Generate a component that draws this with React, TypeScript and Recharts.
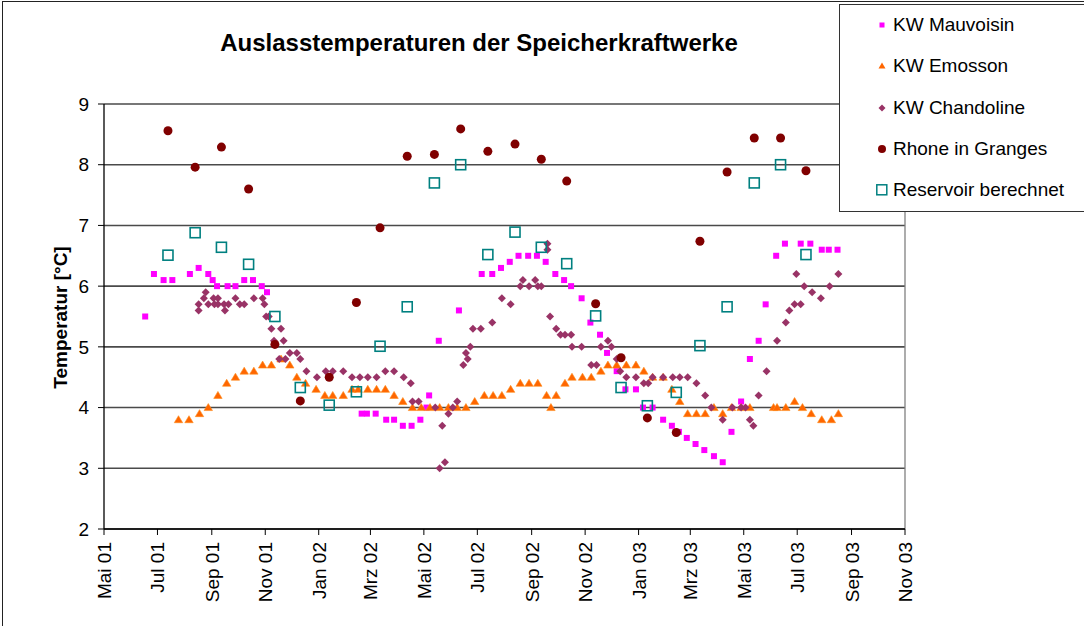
import { ScatterChart, Scatter, XAxis, YAxis, CartesianGrid, ReferenceLine } from "recharts";

// x values are days after 1 May 2001
const tickDates = [
  "2001-05-01", "2001-07-01", "2001-09-01", "2001-11-01", "2002-01-01", "2002-03-01", "2002-05-01", "2002-07-01",
  "2002-09-01", "2002-11-01", "2003-01-01", "2003-03-01", "2003-05-01", "2003-07-01", "2003-09-01", "2003-11-01",
];
const tickLabels = [
  "Mai 01", "Jul 01", "Sep 01", "Nov 01", "Jan 02", "Mrz 02", "Mai 02", "Jul 02",
  "Sep 02", "Nov 02", "Jan 03", "Mrz 03", "Mai 03", "Jul 03", "Sep 03", "Nov 03",
];
const yTicks = [2, 3, 4, 5, 6, 7, 8, 9];

const mauvoisin: [number, number][] = [
  [47, 5.5], [57, 6.2], [68, 6.1], [78, 6.1], [98, 6.2], [108, 6.3], [119, 6.2], [124, 6.1], [129, 6.0], [141, 6.0],
  [150, 6.0], [160, 6.1], [170, 6.1], [180, 6.0], [186, 5.9], [294, 3.9], [300, 3.9], [310, 3.9], [322, 3.8], [331, 3.8],
  [341, 3.7], [351, 3.7], [361, 3.8], [368, 4.0], [371, 4.2], [382, 5.1], [405, 5.6], [431, 6.2], [443, 6.2], [453, 6.3],
  [463, 6.4], [473, 6.5], [484, 6.5], [494, 6.5], [504, 6.4], [515, 6.2], [525, 6.1], [533, 6.0], [545, 5.8], [555, 5.4],
  [566, 5.2], [574, 4.9], [585, 4.6], [595, 4.3], [607, 4.3], [615, 4.0], [626, 4.0], [638, 3.8], [648, 3.7], [656, 3.6],
  [665, 3.5], [675, 3.4], [685, 3.3], [696, 3.2], [706, 3.1], [716, 3.6], [727, 4.1], [737, 4.8], [747, 5.1], [755, 5.7],
  [767, 6.5], [777, 6.7], [795, 6.7], [806, 6.7], [819, 6.6], [827, 6.6], [837, 6.6],
];

const emosson: [number, number][] = [
  [85, 3.8], [97, 3.8], [109, 3.9], [119, 4.0], [130, 4.2], [140, 4.4], [150, 4.5], [160, 4.6], [171, 4.6], [181, 4.7],
  [191, 4.7], [202, 4.8], [212, 4.7], [220, 4.5], [230, 4.4], [242, 4.3], [252, 4.2], [261, 4.2], [273, 4.2], [283, 4.3],
  [290, 4.3], [301, 4.3], [311, 4.3], [321, 4.3], [331, 4.2], [341, 4.1], [352, 4.0], [362, 4.0], [372, 4.0], [383, 4.0],
  [393, 4.0], [403, 4.0], [413, 4.0], [423, 4.1], [434, 4.2], [444, 4.2], [454, 4.2], [464, 4.3], [475, 4.4], [485, 4.4],
  [495, 4.4], [505, 4.2], [510, 4.0], [516, 4.2], [526, 4.4], [534, 4.5], [546, 4.5], [556, 4.5], [567, 4.6], [575, 4.7],
  [585, 4.7], [596, 4.7], [607, 4.7], [616, 4.6], [626, 4.5], [638, 4.5], [648, 4.3], [657, 4.1], [666, 3.9], [676, 3.9],
  [686, 3.9], [696, 4.0], [706, 3.9], [716, 4.0], [727, 4.0], [737, 4.0], [764, 4.0], [768, 4.0], [778, 4.0], [788, 4.1],
  [797, 4.0], [807, 3.9], [819, 3.8], [830, 3.8], [838, 3.9],
];

const chandoline: [number, number][] = [
  [108, 5.7], [108, 5.6], [114, 5.8], [116, 5.9], [119, 5.7], [125, 5.8], [126, 5.7], [130, 5.8], [130, 5.7], [137, 5.7],
  [138, 5.6], [142, 5.7], [150, 5.8], [155, 5.7], [160, 5.7], [171, 5.8], [181, 5.8], [183, 5.7], [185, 5.5], [188, 5.5],
  [191, 5.3], [194, 5.1], [200, 4.8], [202, 5.3], [205, 5.1], [207, 4.8], [212, 4.9], [220, 4.9], [224, 4.8], [231, 4.6],
  [243, 4.5], [253, 4.6], [261, 4.6], [273, 4.6], [283, 4.5], [292, 4.5], [301, 4.5], [311, 4.5], [321, 4.6], [331, 4.6],
  [342, 4.5], [350, 4.4], [352, 4.1], [359, 4.1], [378, 4.0], [383, 3.0], [386, 3.7], [389, 3.1], [393, 3.9], [398, 4.0],
  [403, 4.1], [410, 4.7], [413, 4.9], [415, 4.8], [418, 5.0], [421, 5.3], [430, 5.3], [443, 5.4], [454, 5.8], [464, 5.7],
  [475, 6.0], [478, 6.1], [485, 6.0], [492, 6.1], [495, 6.0], [499, 6.0], [506, 6.7], [506, 6.6], [509, 5.5], [516, 5.3],
  [521, 5.2], [526, 5.2], [533, 5.2], [534, 5.0], [545, 5.0], [556, 4.7], [562, 4.7], [567, 5.0], [575, 5.1], [579, 5.0],
  [585, 4.8], [589, 4.6], [596, 4.5], [607, 4.5], [616, 4.4], [621, 4.4], [626, 4.5], [638, 4.5], [649, 4.5], [657, 4.5],
  [666, 4.5], [676, 4.4], [686, 4.2], [693, 4.0], [706, 3.8], [717, 4.0], [727, 4.0], [732, 4.0], [737, 3.8], [741, 3.7],
  [747, 4.2], [756, 4.6], [768, 5.1], [778, 5.4], [782, 5.6], [788, 5.7], [790, 6.2], [795, 5.7], [799, 6.0], [808, 5.9],
  [818, 5.8], [828, 6.0], [838, 6.2],
];

// monthly samples (Rhone and computed reservoir share the same days)
const monthlyDays = [73, 104, 134, 165, 195, 224, 257, 288, 315, 346, 377, 407, 438, 469, 499, 528, 561, 590, 620, 653, 680, 711, 742, 772, 801];
const rhoneTemp = [8.56, 7.96, 8.29, 7.6, 5.04, 4.11, 4.5, 5.73, 6.96, 8.14, 8.17, 8.59, 8.22, 8.34, 8.09, 7.73, 5.71, 4.82, 3.83, 3.59, 6.74, 7.88, 8.44, 8.44, 7.9];
const reservoirTemp = [6.51, 6.88, 6.64, 6.36, 5.5, 4.33, 4.04, 4.26, 5.01, 5.66, 7.7, 8.0, 6.52, 6.89, 6.64, 6.37, 5.51, 4.33, 4.03, 4.25, 5.02, 5.66, 7.7, 8.0, 6.52];

const FONT = "'Liberation Sans', Arial, sans-serif";
const start = Date.UTC(2001, 4, 1);
const toDay = (s: string) => {
  const [y, m, d] = s.split("-").map(Number);
  return Math.round((Date.UTC(y, m - 1, d) - start) / 86400000);
};
const tickDays = tickDates.map(toDay);

const pairs = (arr: [number, number][]) => arr.map(([x, y]) => ({ x, y }));
const monthly = (vals: number[]) => monthlyDays.map((x, i) => ({ x, y: vals[i] }));

const Square = ({ cx, cy }: any) => <rect x={cx - 3} y={cy - 3} width={6} height={6} fill="#ff00ff" />;
const Triangle = ({ cx, cy }: any) => (
  <polygon points={`${cx},${cy - 4} ${cx + 4.2},${cy + 3} ${cx - 4.2},${cy + 3}`} fill="#ff6600" stroke="#ff8c1a" strokeWidth={0.6} />
);
const Diamond = ({ cx, cy }: any) => (
  <polygon points={`${cx},${cy - 4} ${cx + 4},${cy} ${cx},${cy + 4} ${cx - 4},${cy}`} fill="#993366" />
);
const Dot = ({ cx, cy }: any) => <circle cx={cx} cy={cy} r={4.5} fill="#800000" />;
const OpenSquare = ({ cx, cy }: any) => (
  <rect x={cx - 5} y={cy - 5} width={10} height={10} fill="none" stroke="#008080" strokeWidth={1.6} />
);

const XTick = ({ x, y, payload }: any) => {
  const i = tickDays.indexOf(payload.value);
  return (
    <text x={x + 7} y={y} transform={`rotate(-90 ${x + 7} ${y})`} textAnchor="end" fontSize={19} fontFamily={FONT} fill="#000">
      {tickLabels[i]}
    </text>
  );
};

const legendItems = [
  { name: "KW Mauvoisin", marker: <rect x={3.5} y={4.5} width={5} height={5} fill="#ff00ff" /> },
  { name: "KW Emosson", marker: <polygon points="6,3.5 9.5,9.5 2.5,9.5" fill="#ff6600" /> },
  { name: "KW Chandoline", marker: <polygon points="6,3.5 9.5,7 6,10.5 2.5,7" fill="#993366" /> },
  { name: "Rhone in Granges", marker: <circle cx={6} cy={7} r={4} fill="#800000" /> },
  { name: "Reservoir berechnet", marker: <rect x={0.8} y={1.8} width={10} height={10} fill="none" stroke="#008080" strokeWidth={1.5} /> },
];

export default function App() {
  return (
    <div style={{ position: "relative", width: 1084, height: 626, overflow: "hidden", background: "#fff", fontFamily: FONT }}>
      <style>{"body{margin:0}"}</style>
      <div style={{ position: "absolute", left: 2, top: 1, width: 1200, height: 800, borderLeft: "1px solid #222", borderTop: "1px solid #222" }} />
      <ScatterChart width={1084} height={626} margin={{ top: 104, right: 179, bottom: 17, left: 44 }}>
        <CartesianGrid vertical={false} stroke="#4a4a4a" strokeWidth={1.6} />
        <XAxis
          type="number"
          dataKey="x"
          domain={[0, 914]}
          ticks={tickDays}
          interval={0}
          height={80}
          tickSize={6}
          tickMargin={7}
          tick={<XTick />}
          axisLine={{ stroke: "#000", strokeWidth: 1.3 }}
          tickLine={{ stroke: "#000" }}
        />
        <YAxis
          type="number"
          dataKey="y"
          domain={[2, 9]}
          ticks={yTicks}
          interval={0}
          width={60}
          tickSize={6}
          tickMargin={9}
          tick={{ fontSize: 19, fill: "#000", fontFamily: FONT }}
          axisLine={{ stroke: "#000", strokeWidth: 1.3 }}
          tickLine={{ stroke: "#000" }}
        />
        <ReferenceLine x={914} stroke="#808080" strokeWidth={1.3} />
        <Scatter name="KW Mauvoisin" data={pairs(mauvoisin)} shape={Square} isAnimationActive={false} />
        <Scatter name="KW Emosson" data={pairs(emosson)} shape={Triangle} isAnimationActive={false} />
        <Scatter name="KW Chandoline" data={pairs(chandoline)} shape={Diamond} isAnimationActive={false} />
        <Scatter name="Rhone in Granges" data={monthly(rhoneTemp)} shape={Dot} isAnimationActive={false} />
        <Scatter name="Reservoir berechnet" data={monthly(reservoirTemp)} shape={OpenSquare} isAnimationActive={false} />
      </ScatterChart>

      <div style={{ position: "absolute", left: 0, width: 958, top: 31, textAlign: "center", fontSize: 24, lineHeight: "24px", fontWeight: "bold", color: "#000" }}>
        Auslasstemperaturen der Speicherkraftwerke
      </div>
      <div
        style={{
          position: "absolute", left: 60 - 150, top: 317 - 9.5, width: 300, height: 19, lineHeight: "19px",
          textAlign: "center", fontSize: 19, fontWeight: "bold", transform: "rotate(-90deg)", color: "#000",
        }}
      >
        Temperatur [°C]
      </div>

      <div style={{ position: "absolute", left: 839, top: 4, width: 250, height: 206, border: "1px solid #333", background: "#fff" }}>
        {legendItems.map((it, i) => (
          <div key={it.name} style={{ position: "absolute", left: 0, top: 20 + i * 41.3 - 11, height: 22, width: 250 }}>
            <svg width={13} height={14} style={{ position: "absolute", left: 36, top: 4 }}>
              {it.marker}
            </svg>
            <span style={{ position: "absolute", left: 53, top: 0, fontSize: 19, lineHeight: "22px", whiteSpace: "nowrap", color: "#000" }}>
              {it.name}
            </span>
          </div>
        ))}
      </div>
    </div>
  );
}
